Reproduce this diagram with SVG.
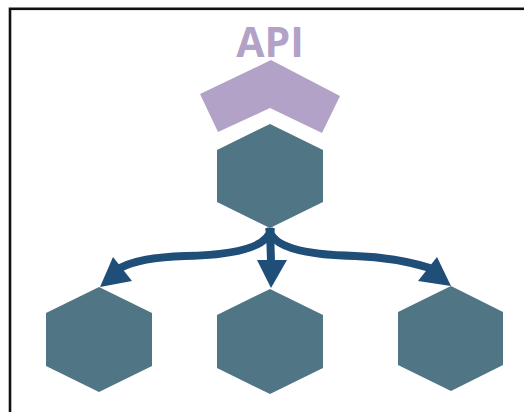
<svg xmlns="http://www.w3.org/2000/svg" width="524" height="412" viewBox="0 0 524 412">
<style>
.hex{fill:#507585}
.api{fill:#b3a2c8}
.shaft{fill:none;stroke:#1f4e79;stroke-width:8}
.head{fill:#1f4e79}
.lbl{font-family:"Open Sans",sans-serif;font-weight:bold;font-size:41px;fill:#b3a2c8}
</style>
<rect x="0" y="0" width="524" height="412" fill="#fff"/>
<rect x="10" y="8.8" width="530" height="420" fill="none" stroke="#111" stroke-width="2.6"/>
<g id="api">
<polygon class="api" points="271,60 340,96 322,133 270,108 218,132 200,94"/>
<text class="lbl" x="270" y="57" text-anchor="middle">API</text>
</g>
<g id="hub"><polygon class="hex" points="270,124 323,150 323,202 270,228 217,202 217,150"/></g>
<g id="child-left"><polygon class="hex" points="99,287 152,313 152,366 99,392 46,366 46,313"/></g>
<g id="child-middle"><polygon class="hex" points="270,289 323,315 323,368 270,394 217,368 217,315"/></g>
<g id="child-right"><polygon class="hex" points="451,286 503,312 503,365 451,391 398,365 398,312"/></g>
<g id="connectors">
<path class="shaft" d="M271,228 C269,248 232,255 185,256 C155,257 133,261 120,268"/>
<polygon class="head" points="100,287 113,257 132,281"/>
<path class="shaft" d="M269,228 C271,248 308,255 355,256 C385,257 407,261 430,268"/>
<polygon class="head" points="451,286 437,257 418,281"/>
<path class="shaft" d="M270,228 L271,262"/>
<polygon class="head" points="257,260 287,260 271,288"/>
</g>
</svg>
